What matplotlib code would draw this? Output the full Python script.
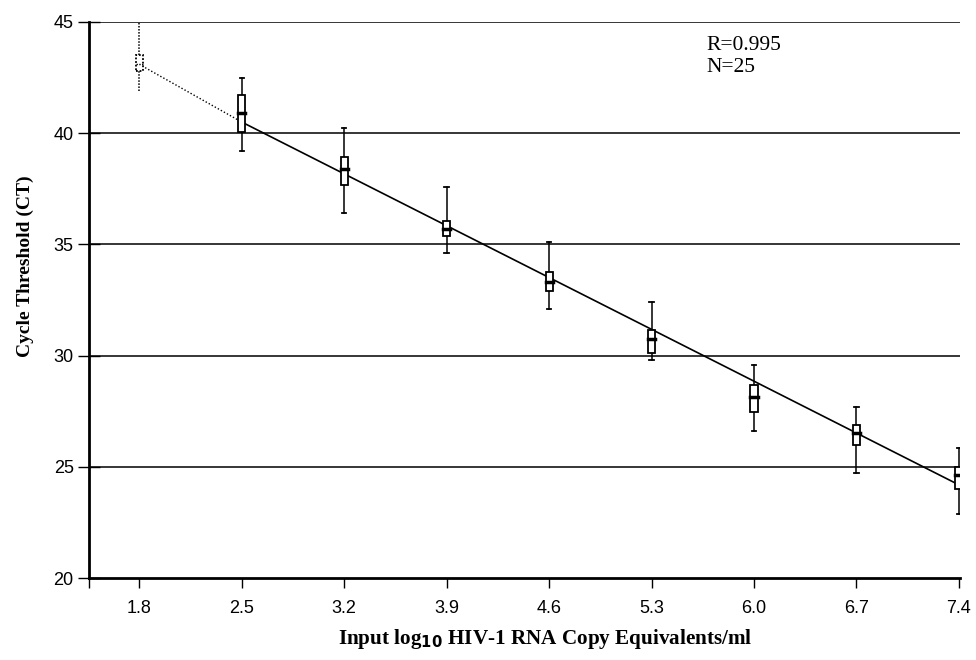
import numpy as np
from matplotlib import pyplot as plt

# Input log10 copy equivalents and box statistics (CT)
log_copies = [1.8, 2.5, 3.2, 3.9, 4.6, 5.3, 6.0, 6.7, 7.4]
whisker_low = [41.9, 39.2, 36.4, 34.6, 32.1, 29.8, 26.6, 24.7, 22.9]
box_low = [42.8, 40.05, 37.65, 35.4, 32.9, 30.1, 27.45, 26.0, 24.0]
median = [43.1, 40.9, 38.4, 35.7, 33.3, 30.75, 28.15, 26.5, 24.65]
box_high = [43.5, 41.7, 38.95, 36.05, 33.75, 31.15, 28.7, 26.9, 25.0]
whisker_high = [45.0, 42.5, 40.25, 37.6, 35.1, 32.4, 29.6, 27.7, 25.85]

# Fitted standard curve: CT = intercept + slope * log10(copies)
intercept = 48.83
slope = -3.33
fit_range = [2.5, 7.4]

r_value = 0.995
n_value = 25

SANS = "Liberation Sans"
SERIF = "Liberation Serif"

fig = plt.figure(figsize=(9.76, 6.6), dpi=100)
ax = fig.add_axes([0.0912, 0.1242, 0.8924, 0.8425])

ax.set_xlim(1.458, 7.407)
ax.set_ylim(20, 45)

# horizontal grid lines
for level in [25, 30, 35, 40, 45]:
    ax.axhline(level, color="black", lw=1.1, zorder=1)

# regression line, dotted extension to the lowest level
fx = np.array(fit_range)
ax.plot(fx, intercept + slope * fx, color="black", lw=1.2, zorder=2)
ax.plot([log_copies[0], fit_range[0]], [median[0], intercept + slope * fit_range[0]],
        color="black", lw=1.0, ls=(0, (1, 1.5)), zorder=2)

box_w = 0.048
cap_w = 0.028
for i, x in enumerate(log_copies):
    ls = (0, (1, 1)) if i == 0 else "-"
    ax.plot([x, x], [whisker_low[i], box_low[i]], color="black", lw=1.1, ls=ls, zorder=3)
    ax.plot([x, x], [box_high[i], whisker_high[i]], color="black", lw=1.1, ls=ls, zorder=3)
    if i > 0:
        ax.plot([x - cap_w / 2, x + cap_w / 2], [whisker_low[i]] * 2, color="black", lw=1.3, zorder=3)
        ax.plot([x - cap_w / 2, x + cap_w / 2], [whisker_high[i]] * 2, color="black", lw=1.3, zorder=3)
    ax.add_patch(plt.Rectangle((x - box_w / 2, box_low[i]), box_w, box_high[i] - box_low[i],
                               facecolor="white", edgecolor="black", lw=1.3, ls=ls, zorder=4))
    ax.plot([x - box_w / 2, x + box_w / 2], [median[i]] * 2, color="black",
            lw=2.5 if i > 0 else 1.0, ls=ls, zorder=5)

for side in ["top", "right"]:
    ax.spines[side].set_visible(False)
ax.spines["left"].set_linewidth(2)
ax.spines["bottom"].set_linewidth(2)

ax.set_yticks([20, 25, 30, 35, 40, 45])
ax.tick_params(axis="y", direction="inout", length=16, width=1, labelsize=13, pad=3)
ax.set_xticks([1.458] + log_copies, [""] + [f"{v:.1f}" for v in log_copies])
ax.tick_params(axis="x", direction="out", length=7.5, width=1, labelsize=13, pad=8)
for lab in ax.get_xticklabels() + ax.get_yticklabels():
    lab.set_family(SANS)

ax.set_ylabel("Cycle Threshold (CT)", family=SERIF, fontweight="bold", fontsize=14)
ax.yaxis.set_label_coords(-0.0627, 0.561)
ax.set_xlabel(r"Input log$_{\mathbf{10}}$ HIV-1 RNA Copy Equivalents/ml", family=SERIF,
              fontweight="bold", fontsize=15.2)
ax.xaxis.set_label_coords(0.5235, -0.088)

ax.text(0.709, 0.975, f"R={r_value}\nN={n_value}", transform=ax.transAxes, family=SERIF,
        fontsize=15.5, va="top", ha="left", linespacing=1.25)

fig.savefig("out.png", dpi=100)
